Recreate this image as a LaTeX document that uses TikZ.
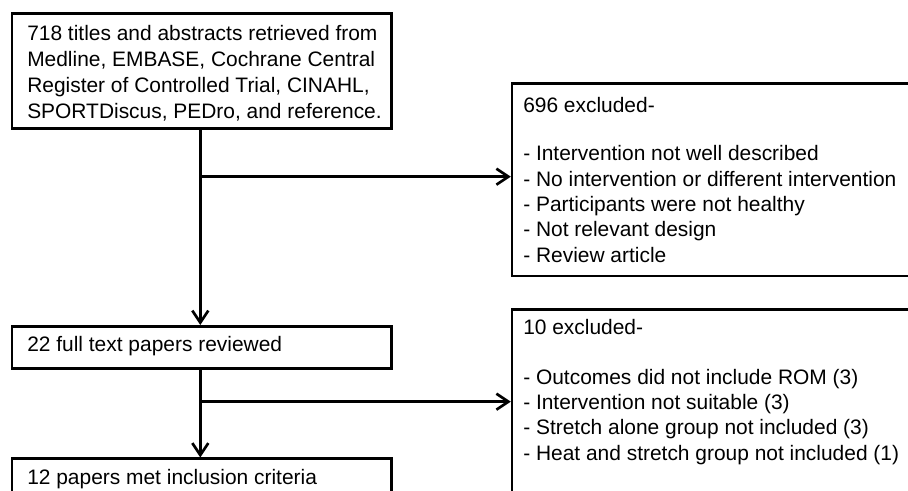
\documentclass[tikz,border=0pt]{standalone}
\usepackage{fontspec}
\setmainfont{Liberation Sans}
\usetikzlibrary{arrows.meta}
\begin{document}
\begin{tikzpicture}[x=0.75pt,y=-0.75pt,
  box/.style={draw, line width=2pt, anchor=north west, inner sep=0pt},
  txt/.style={anchor=west, align=left, inner sep=0pt, font=\fontsize{15.7pt}{19pt}\selectfont},
  arr/.style={line width=2pt, -{Straight Barb[length=9pt,width=12pt]}}]
\useasboundingbox (0,0) rectangle (908,491);
\clip (0,0) rectangle (908,491);
% boxes
\node[box, minimum width={379.2*0.75pt}, minimum height={115*0.75pt}] (top) at (10.8,12.5) {};
\node[box, minimum width={379.2*0.75pt}, minimum height={42.5*0.75pt}] (full) at (10.8,325) {};
\node[box, minimum width={379.2*0.75pt}, minimum height={45*0.75pt}] (incl) at (10.8,457.5) {};
\node[box, minimum width={410*0.75pt}, minimum height={192.3*0.75pt}] (ex1) at (510.8,82.5) {};
\node[box, minimum width={410*0.75pt}, minimum height={190*0.75pt}] (ex2) at (510.8,308.5) {};
% texts
\node[txt, font=\fontsize{15.7pt}{19.5pt}\selectfont] (toptxt) at (27,73) {718 titles and abstracts retrieved from\\Medline, EMBASE, Cochrane Central\\Register of Controlled Trial, CINAHL,\\SPORTDiscus, PEDro, and reference.};
\node[txt] (fulltxt) at (27,346) {22 full text papers reviewed};
\node[txt] (incltxt) at (27,479) {12 papers met inclusion criteria};
\node[txt] (ex1txt) at (523,180) {696 excluded-\\[17pt]- Intervention not well described\\- No intervention or different intervention\\- Participants were not healthy\\- Not relevant design\\- Review article};
\node[txt] (ex2txt) at (523,392) {10 excluded-\\[18pt]- Outcomes did not include ROM (3)\\- Intervention not suitable (3)\\- Stretch alone group not included (3)\\- Heat and stretch group not included (1)};
% connectors
\coordinate (v) at (200.3,0);
\coordinate (j1) at (200.3,176.7);
\coordinate (j2) at (200.3,401.7);
\draw[arr] (v |- top.south) -- (v |- full.north);
\draw[arr] (v |- full.south) -- (v |- incl.north);
\draw[arr] (j1) -- (j1 -| ex1.west);
\draw[arr] (j2) -- (j2 -| ex2.west);
\end{tikzpicture}
\end{document}
